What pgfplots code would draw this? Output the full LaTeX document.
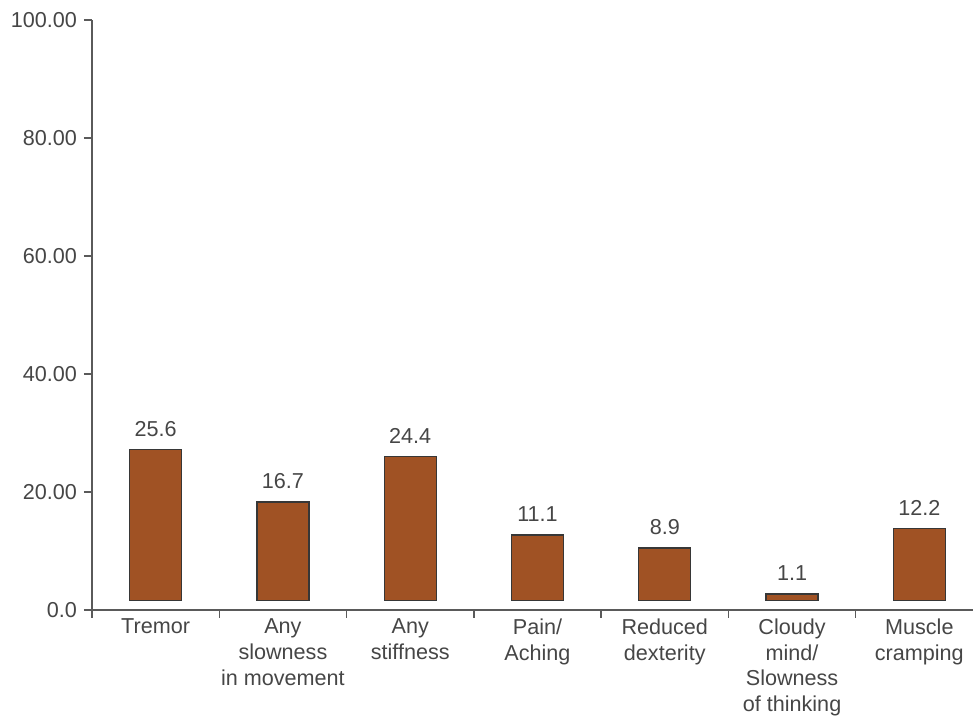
\documentclass[border=0pt]{standalone}
\usepackage{pgfplots}
\pgfplotsset{compat=1.18}
\usepackage{fontspec}
\setmainfont{Liberation Sans}
\definecolor{barfill}{RGB}{160,82,36}
\definecolor{barline}{RGB}{55,55,55}
\definecolor{txt}{RGB}{70,70,70}
\definecolor{axln}{RGB}{90,90,90}
\tikzset{lbl/.style={font=\fontsize{10.8}{12.8}\selectfont, text=txt}}
\pgfplotsset{
  frame/.style={at={(0pt,0pt)}, anchor=south west,
    scale only axis, width=445.5pt, height=295pt,
    xmin=-0.5, xmax=6.5, clip=false},
}
\begin{document}
\begin{tikzpicture}
% axes, ticks and category labels
\begin{axis}[
  frame, ymin=0, ymax=100,
  axis x line*=bottom, axis y line*=left,
  axis line style={-, draw=axln, line width=0.7pt},
  tick style={draw=axln, line width=0.7pt},
  tick align=outside, major tick length=4pt,
  ytick={0,20,40,60,80,100},
  yticklabels={0.0,20.00,40.00,60.00,80.00,100.00},
  xtick={-0.5,0.5,...,6.5},
  xticklabels={},
  extra x ticks={0,1,2,3,4,5,6},
  extra x tick labels={Tremor,{Any\\slowness\\in movement},{Any\\stiffness},{Pain/\\Aching},{Reduced\\dexterity},{Cloudy\\mind/\\Slowness\\of thinking},{Muscle\\cramping}},
  extra x tick style={major tick length=0pt, tick style={draw=none}},
  ticklabel style={lbl},
  x tick label style={align=center, anchor=north, yshift=-1pt},
]
\end{axis}
% bars sit on a baseline slightly above the axis line
\begin{axis}[
  frame, ymin=-1.6, ymax=98.4, hide axis,
  ybar, bar width=26pt,
]
\addplot[fill=barfill, draw=barline, line width=0.6pt,
  point meta=explicit symbolic,
  nodes near coords,
  every node near coord/.append style={lbl, anchor=south, yshift=3pt}]
  coordinates {(0,25.6) [25.6] (1,16.7) [16.7] (2,24.4) [24.4] (3,11.1) [11.1] (4,8.9) [8.9] (5,1.1) [1.1] (6,12.2) [12.2]};
\end{axis}
\pgfresetboundingbox
\path[use as bounding box] (-46pt,-53pt) rectangle (440.5pt,305pt);
\end{tikzpicture}
\end{document}
